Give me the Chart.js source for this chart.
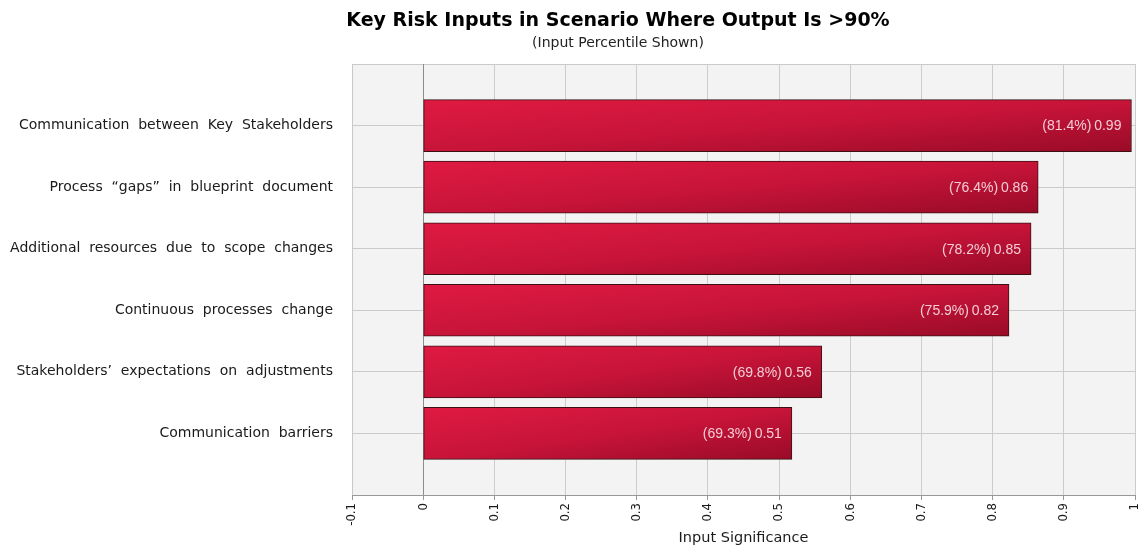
<!DOCTYPE html>
<html>
<head>
<meta charset="utf-8">
<script src="https://cdn.jsdelivr.net/npm/chart.js@4/dist/chart.umd.min.js"></script>
<style>
  html, body { margin: 0; padding: 0; background: #ffffff; }
  #wrap { width: 1138px; height: 548px; position: relative; }
</style>
</head>
<body>
<div id="wrap"><canvas id="c" width="1138" height="548"></canvas></div>
<script>
const categories = [
  'Communication  between  Key  Stakeholders',
  'Process  \u201cgaps\u201d  in  blueprint  document',
  'Additional  resources  due  to  scope  changes',
  'Continuous  processes  change',
  'Stakeholders\u2019  expectations  on  adjustments',
  'Communication  barriers'
];
// bar lengths
const significance = [0.995, 0.864, 0.854, 0.823, 0.560, 0.518];
// values as printed on the bars
const valueTexts = ['0.99', '0.86', '0.85', '0.82', '0.56', '0.51'];
const percentiles = ['81.4%', '76.4%', '78.2%', '75.9%', '69.8%', '69.3%'];
const xTicks = [-0.1, 0, 0.1, 0.2, 0.3, 0.4, 0.5, 0.6, 0.7, 0.8, 0.9, 1];
const titleText = 'Key Risk Inputs in Scenario Where Output Is >90%';
const subtitleText = '(Input Percentile Shown)';
const xAxisTitle = 'Input Significance';

// padded category axis: empty slot at top and bottom
const yLabels = [''].concat(categories, ['']);
const barData = [null].concat(significance, [null]);

const bgPlugin = {
  id: 'bg',
  beforeDraw(chart) {
    const {ctx, chartArea: a} = chart;
    ctx.save();
    ctx.fillStyle = '#f3f3f3';
    ctx.fillRect(a.left, a.top, a.right - a.left, a.bottom - a.top);
    ctx.restore();
  }
};

const headerPlugin = {
  id: 'header',
  afterDraw(chart) {
    const ctx = chart.ctx;
    ctx.save();
    ctx.textAlign = 'center';
    ctx.textBaseline = 'middle';
    ctx.fillStyle = '#000000';
    ctx.font = 'bold 19px "DejaVu Sans", sans-serif';
    ctx.fillText(titleText, 618, 21);
    ctx.fillStyle = '#222222';
    ctx.font = '14px "DejaVu Sans", sans-serif';
    ctx.fillText(subtitleText, 618, 43);
    ctx.restore();
  }
};

const valueLabelPlugin = {
  id: 'valueLabels',
  afterDatasetsDraw(chart) {
    const ctx = chart.ctx;
    const meta = chart.getDatasetMeta(0);
    ctx.save();
    ctx.font = '14px "Liberation Sans", Arial, sans-serif';
    ctx.fillStyle = '#f4ccd6';
    ctx.textAlign = 'right';
    ctx.textBaseline = 'middle';
    meta.data.forEach((bar, i) => {
      if (barData[i] == null) return;
      const k = i - 1;
      ctx.fillText('(' + percentiles[k] + ')\u2009' + valueTexts[k], bar.x - 10, bar.y + 1);
    });
    ctx.restore();
  }
};

function barGradient(context) {
  const chart = context.chart;
  if (!chart.chartArea || context.type !== 'data' || context.raw == null) return '#cc1438';
  const xs = chart.scales.x, ys = chart.scales.y;
  const x0 = xs.getPixelForValue(0);
  const x1 = xs.getPixelForValue(context.raw);
  const yc = ys.getPixelForValue(context.dataIndex);
  const h = 52;
  const w = Math.max(1, x1 - x0);
  const k = 2 / (1 / (w * w) + 1 / (h * h));
  const a = k / w, b = k / h;
  const yTop = yc - h / 2;
  const g = chart.ctx.createLinearGradient(x0, yTop, x0 + a, yTop + b);
  g.addColorStop(0, '#df1a42');
  g.addColorStop(0.5, '#c81439');
  g.addColorStop(1, '#990b27');
  return g;
}

new Chart(document.getElementById('c'), {
  type: 'bar',
  data: {
    labels: yLabels,
    datasets: [{
      data: barData,
      backgroundColor: barGradient,
      borderColor: '#3a1015',
      borderWidth: 1,
      borderSkipped: false,
      barThickness: 52
    }]
  },
  options: {
    indexAxis: 'y',
    responsive: false,
    animation: false,
    devicePixelRatio: 1,
    layout: { padding: { top: 64, left: 0, right: 3, bottom: 0 } },
    plugins: {
      legend: { display: false },
      tooltip: { enabled: false },
      title: { display: false }
    },
    scales: {
      y: {
        type: 'category',
        offset: false,
        grid: {
          offset: false,
          color: '#cbcbcb',
          lineWidth: 1,
          drawTicks: false
        },
        border: { color: '#c8c8c8' },
        ticks: {
          padding: 19,
          color: '#1a1a1a',
          font: { family: '"DejaVu Sans", sans-serif', size: 14 },
          autoSkip: false
        },
        afterFit(scale) { scale.width = 352; scale.paddingTop = 0; scale.paddingBottom = 0; }
      },
      x: {
        type: 'linear',
        min: -0.1,
        max: 1,
        afterBuildTicks(scale) { scale.ticks = xTicks.map(v => ({ value: v })); },
        grid: {
          color: (c) => (c.tick && c.tick.value === 0) ? '#8c8c8c' : '#cccccc',
          tickColor: '#999999',
          tickLength: 5,
          lineWidth: 1
        },
        border: { color: '#999999' },
        ticks: {
          minRotation: 90,
          maxRotation: 90,
          autoSkip: false,
          padding: 3,
          color: '#1a1a1a',
          font: { family: '"DejaVu Sans Condensed", "DejaVu Sans", sans-serif', size: 13 },
          callback: (v) => String(Math.round(v * 10) / 10)
        },
        title: {
          display: true,
          text: xAxisTitle,
          color: '#1a1a1a',
          font: { family: '"DejaVu Sans", sans-serif', size: 14.5 },
          padding: { top: 0, bottom: 1 }
        },
        afterFit(scale) { scale.height = 53; scale.paddingLeft = 0; scale.paddingRight = 0; }
      }
    }
  },
  plugins: [bgPlugin, headerPlugin, valueLabelPlugin]
});
</script>
</body>
</html>
